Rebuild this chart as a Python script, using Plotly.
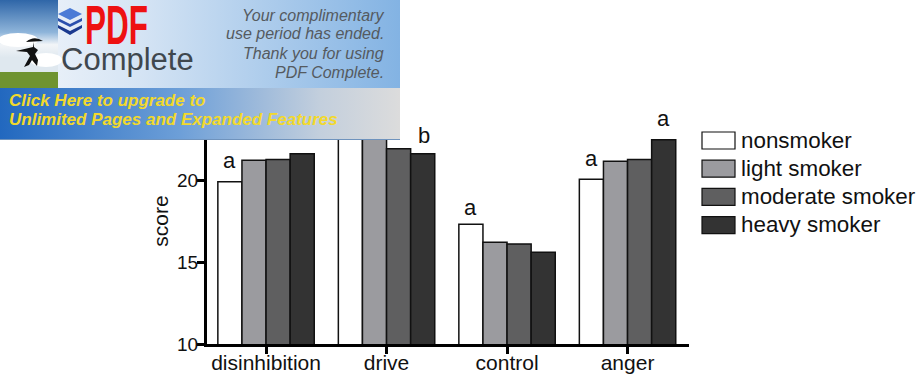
import base64
import plotly.graph_objects as go

categories = ["disinhibition", "drive", "control", "anger"]
series_names = ["nonsmoker", "light smoker", "moderate smoker", "heavy smoker"]
nonsmoker = [19.9, 24.0, 17.3, 20.05]
light_smoker = [21.2, 23.0, 16.2, 21.15]
moderate_smoker = [21.25, 21.9, 16.1, 21.25]
heavy_smoker = [21.6, 21.6, 15.6, 22.45]
series_values = [nonsmoker, light_smoker, moderate_smoker, heavy_smoker]
fills = ["#ffffff", "#9b9b9f", "#5f5f60", "#333333"]
y_ticks = [10, 15, 20, 25]
letters = [(-0.3, 21.2, "a"), (1.31, 22.7, "b"), (1.7, 18.3, "a"), (2.7, 21.3, "a"), (3.3, 23.75, "a")]

W, H = 920, 379
L, R, T, B = 207, 689, 98, 344
FONT = "Liberation Sans"

banner_svg = f'''<svg xmlns="http://www.w3.org/2000/svg" width="400" height="140" viewBox="0 0 400 140" preserveAspectRatio="none">
<defs>
<linearGradient id="top" x1="0" x2="1" y1="0" y2="0"><stop offset="0" stop-color="#f4f7fb"/><stop offset="0.35" stop-color="#d5e4f4"/><stop offset="1" stop-color="#83b3e3"/></linearGradient>
<linearGradient id="bot" x1="0" x2="1" y1="0" y2="0"><stop offset="0" stop-color="#2268bf"/><stop offset="0.45" stop-color="#6d9fd8"/><stop offset="0.8" stop-color="#c3cfdd"/><stop offset="1" stop-color="#dcdcdc"/></linearGradient>
<linearGradient id="sky" x1="0" x2="0" y1="0" y2="1"><stop offset="0" stop-color="#2f66a8"/><stop offset="0.45" stop-color="#8fb5da"/><stop offset="0.62" stop-color="#f2f5f8"/><stop offset="0.8" stop-color="#dfe8ef"/></linearGradient>
</defs>
<rect width="400" height="88" fill="url(#top)"/>
<rect y="88" width="400" height="52" fill="url(#bot)"/>
<rect y="139" width="400" height="1" fill="#6f93bd"/>
<rect width="58" height="72" fill="url(#sky)"/>
<ellipse cx="18" cy="40" rx="20" ry="7" fill="#fff"/>
<ellipse cx="46" cy="60" rx="16" ry="7" fill="#fff"/>
<rect y="72" width="58" height="16" fill="#6f9330"/>
<path d="M26 42 Q34 35 43 41 Z" fill="#111"/>
<path d="M34 42 L33 47 L16 51 L27 52 L30 56 L24 67 L29 65 L32 60 L37 66 L38 60 L35 54 L38 50 L34 47 Z" fill="#111"/>
<path d="M70 8 L82 14 L70 20 L58 14 Z" fill="#4b7bd6"/>
<path d="M58 18 L70 24 L82 18 L82 21 L70 27 L58 21 Z" fill="#2b50ad"/>
<path d="M58 25 L70 31 L82 25 L82 28 L70 35 L58 28 Z" fill="#1b3a8f"/>
</svg>'''
banner_uri = "data:image/svg+xml;base64," + base64.b64encode(banner_svg.encode()).decode()

fig = go.Figure()
for name, vals, fill in zip(series_names, series_values, fills):
    fig.add_trace(go.Bar(name=name, x=categories, y=vals, marker=dict(color=fill, line=dict(color="#111111", width=1.5)), showlegend=False))

annotations = []
for x, y, t in letters:
    annotations.append(dict(x=x, y=y, xref="x", yref="y", text=t, showarrow=False, font=dict(family=FONT, size=22, color="#111")))

shapes = []
for i, (name, fill) in enumerate(zip(series_names, fills)):
    top = 132 + i * 28.2
    shapes.append(dict(type="rect", xref="paper", yref="paper", x0=(702 - L) / (R - L), x1=(735 - L) / (R - L),
                       y0=(B - top) / (B - T), y1=(B - top - 17) / (B - T), fillcolor=fill, line=dict(color="#111", width=1.2)))
    annotations.append(dict(xref="paper", yref="paper", x=(739 - L) / (R - L), y=(B - top - 8) / (B - T), xanchor="left", yanchor="middle",
                            text=name, showarrow=False, font=dict(family=FONT, size=22.4, color="#111")))


def banner_text(x, y, text, size, color, family=FONT, anchor="left", bold=False, italic=False):
    t = text
    if bold:
        t = f"<b>{t}</b>"
    if italic:
        t = f"<i>{t}</i>"
    annotations.append(dict(xref="paper", yref="paper", x=(x - L) / (R - L), y=(B - y) / (B - T), xanchor=anchor, yanchor="middle",
                            text=t, showarrow=False, font=dict(family=family, size=size, color=color)))


for line, y in zip(["Your complimentary", "use period has ended.", "Thank you for using", "PDF Complete."], [15, 34, 53, 72]):
    banner_text(386, y, line, 16, "#555a60", anchor="right", italic=True)
banner_text(83, 25, "PDF", 31.5, "#ee1111", bold=True)
banner_text(59, 60, "Complete", 31, "#3f474e")
banner_text(7, 100, "Click Here to upgrade to", 17, "#f2d92c", bold=True, italic=True)
banner_text(7, 119, "Unlimited Pages and Expanded Features", 17, "#f2d92c", bold=True, italic=True)

fig.update_layout(
    width=W, height=H, margin=dict(l=L, r=W - R, t=T, b=H - B),
    paper_bgcolor="white", plot_bgcolor="white",
    barmode="group", bargap=0.2, bargroupgap=0,
    annotations=annotations, shapes=shapes,
    images=[dict(source=banner_uri, xref="paper", yref="paper", x=-L / (R - L), y=B / (B - T),
                 sizex=400 / (R - L), sizey=140 / (B - T), xanchor="left", yanchor="top", sizing="stretch", layer="above")],
    font=dict(family=FONT, color="#111"),
)
fig.update_xaxes(range=[-0.49, 3.51], automargin=False, showline=True, linewidth=3, linecolor="#000", ticks="outside", ticklen=7, tickwidth=3,
                 tickcolor="#000", tickfont=dict(size=21, family=FONT, color="#111"), showgrid=False, ticklabelstandoff=-9)
fig.update_yaxes(range=[10, 25], automargin=False, tickvals=y_ticks, showline=True, linewidth=3, linecolor="#000", ticks="outside", ticklen=7, tickwidth=3,
                 tickcolor="#000", tickfont=dict(size=19, family=FONT, color="#111"), showgrid=False, zeroline=False, ticklabelstandoff=-5,
                 title=dict(text="score", font=dict(size=21, family=FONT, color="#111"), standoff=3))
post = """
document.body.style.margin = '0';
document.documentElement.style.overflow = 'hidden';
const pdf = [...document.querySelectorAll('.annotation-text')].find(e => e.textContent === 'PDF');
if (pdf) {
  const b = pdf.getBBox();
  const cy = b.y + b.height / 2;
  pdf.setAttribute('transform', `translate(0 ${cy}) scale(1 1.76) translate(0 ${-cy})`);
}
"""
fig.write_html("out.html", config=dict(displayModeBar=False), post_script=post)
